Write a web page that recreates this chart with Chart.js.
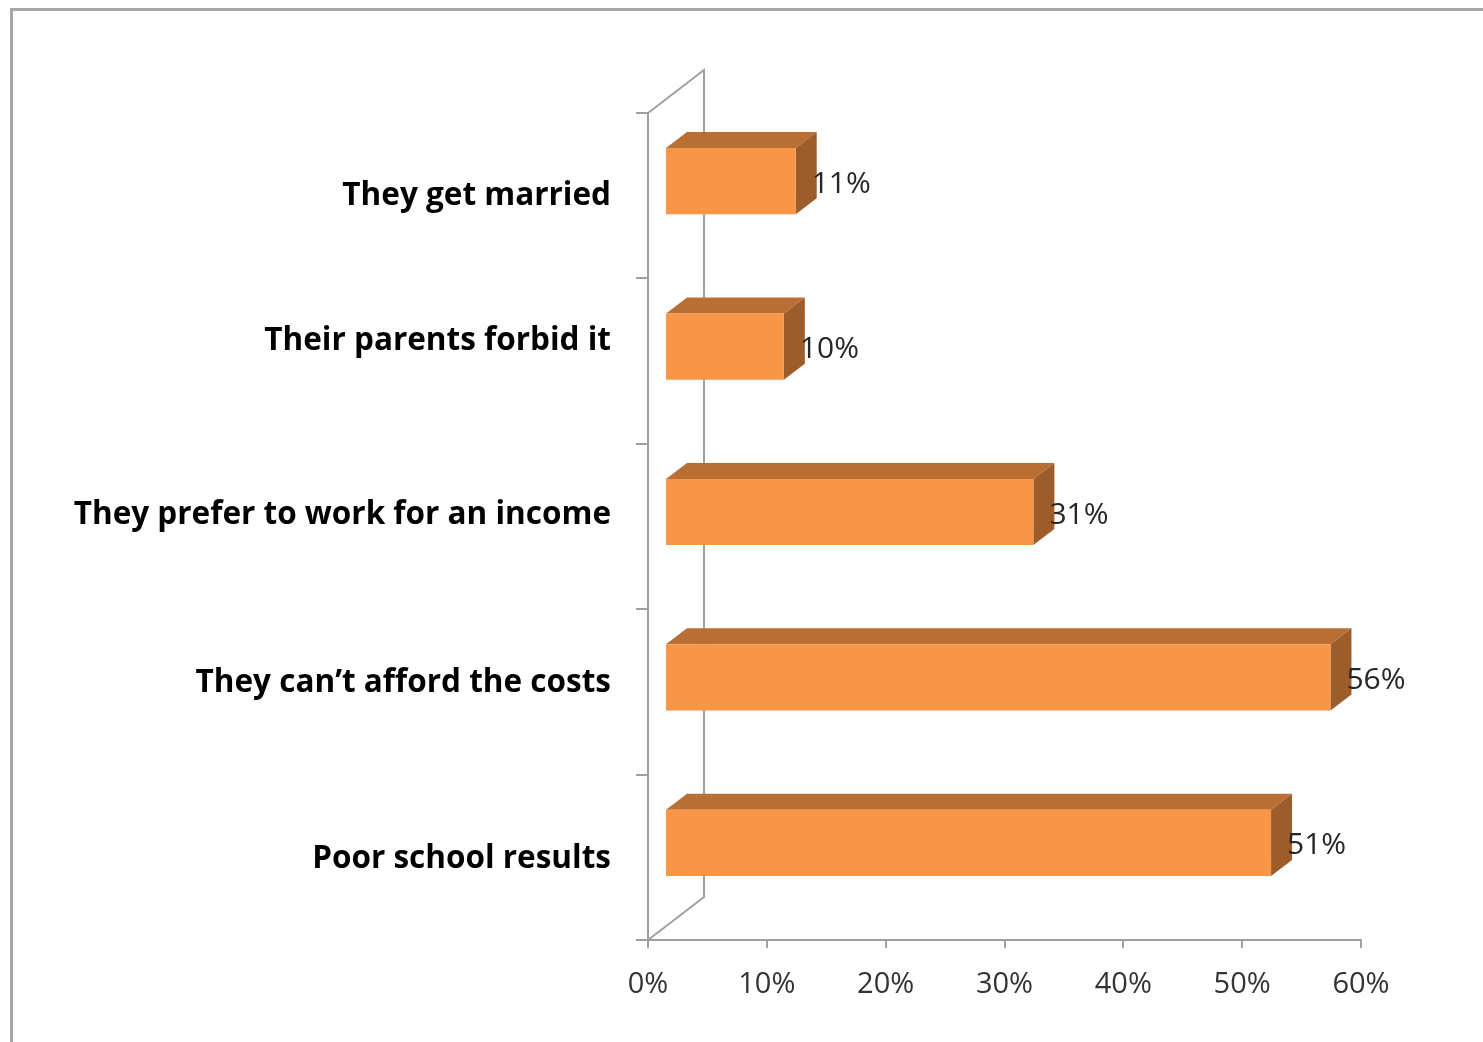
<!DOCTYPE html>
<html>
<head>
<meta charset="utf-8">
<script src="https://cdn.jsdelivr.net/npm/chart.js@4"></script>
<style>
  html, body { margin: 0; padding: 0; background: #fff; }
  #wrap { width: 1483px; height: 1042px; }
</style>
</head>
<body>
<div id="wrap"><canvas id="c"></canvas></div>
<script>
const categories = [
  'They get married',
  'Their parents forbid it',
  'They prefer to work for an income',
  'They can\u2019t afford the costs',
  'Poor school results'
];
const values = [11, 10, 31, 56, 51];
const tickValues = [0, 10, 20, 30, 40, 50, 60];

// 3d look: front face offset and box depth
const FRONT = { dx: 17, dy: -14.5 };
const DEPTH = { dx: 21, dy: -16 };
const WALL = { dx: 56, dy: -43 };
// category labels in the original sit a bit off the band centres
const labelShift = [0, -20, -11, -9, 2];

const box3d = {
  id: 'box3d',
  beforeDraw(chart) {
    const ctx = chart.ctx;
    ctx.save();
    ctx.strokeStyle = '#a6a6a6';
    ctx.lineWidth = 3;
    ctx.strokeRect(11.5, 9.5, 1500, 1100);
    ctx.restore();
    // nudge the category labels
    const items = chart.scales.y.getLabelItems(chart.chartArea);
    items.forEach((it, i) => {
      if (!it._shifted) {
        it.options.translation[1] += labelShift[i] || 0;
        it._shifted = true;
      }
    });
  },
  beforeDatasetsDraw(chart) {
    const { ctx, chartArea: a } = chart;
    ctx.save();
    ctx.strokeStyle = '#a0a0a0';
    ctx.lineWidth = 2;
    ctx.beginPath();
    ctx.moveTo(a.left, a.top);
    ctx.lineTo(a.left + WALL.dx, a.top + WALL.dy);
    ctx.lineTo(a.left + WALL.dx, a.bottom + WALL.dy);
    ctx.lineTo(a.left, a.bottom);
    ctx.stroke();
    ctx.restore();
  },
  beforeDatasetDraw(chart, args) {
    const ctx = chart.ctx;
    ctx.save();
    ctx.translate(FRONT.dx, FRONT.dy);
    args.meta.data.forEach(bar => {
      const p = bar.getProps(['x', 'y', 'base', 'height'], true);
      const top = p.y - p.height / 2, bot = p.y + p.height / 2;
      // top face
      ctx.fillStyle = '#b96f33';
      ctx.beginPath();
      ctx.moveTo(p.base, top);
      ctx.lineTo(p.base + DEPTH.dx, top + DEPTH.dy);
      ctx.lineTo(p.x + DEPTH.dx, top + DEPTH.dy);
      ctx.lineTo(p.x, top);
      ctx.closePath();
      ctx.fill();
      // side face
      ctx.fillStyle = '#9c5d2a';
      ctx.beginPath();
      ctx.moveTo(p.x, top);
      ctx.lineTo(p.x + DEPTH.dx, top + DEPTH.dy);
      ctx.lineTo(p.x + DEPTH.dx, bot + DEPTH.dy);
      ctx.lineTo(p.x, bot);
      ctx.closePath();
      ctx.fill();
    });
  },
  afterDatasetDraw(chart) {
    chart.ctx.restore();
  },
  afterDatasetsDraw(chart) {
    const ctx = chart.ctx;
    const meta = chart.getDatasetMeta(0);
    ctx.save();
    ctx.fillStyle = '#262626';
    ctx.font = '30px "Open Sans", Lato, sans-serif';
    ctx.textAlign = 'left';
    ctx.textBaseline = 'middle';
    meta.data.forEach((bar, i) => {
      ctx.fillText(values[i] + '%', bar.x + FRONT.dx + 16, bar.y + FRONT.dy + 3);
    });
    ctx.restore();
  }
};

new Chart(document.getElementById('c'), {
  type: 'bar',
  data: {
    labels: categories,
    datasets: [{
      data: values,
      backgroundColor: '#f79646',
      borderWidth: 0,
      categoryPercentage: 1,
      barPercentage: 0.4,
      clip: false
    }]
  },
  options: {
    indexAxis: 'y',
    responsive: true,
    maintainAspectRatio: false,
    animation: false,
    layout: { padding: { top: 113, right: 122, left: 0, bottom: 0 } },
    plugins: { legend: { display: false }, tooltip: { enabled: false } },
    scales: {
      x: {
        min: 0,
        max: 60,
        afterFit(s) { s.height = 102; },
        afterBuildTicks(s) { s.ticks = tickValues.map(v => ({ value: v })); },
        ticks: {
          callback: v => v + '%',
          color: '#333333',
          font: { family: '"Open Sans", Lato, sans-serif', size: 29 },
          padding: 19,
          maxRotation: 0
        },
        grid: { drawOnChartArea: false, tickLength: 8, color: '#a0a0a0', lineWidth: 2 },
        border: { color: '#a0a0a0', width: 2 }
      },
      y: {
        afterFit(s) { s.width = 648; },
        ticks: {
          color: '#000000',
          font: { family: '"Open Sans", Lato, sans-serif', size: 31.5, weight: 'bold' },
          padding: 25
        },
        grid: { offset: true, drawOnChartArea: false, tickLength: 12, color: '#a0a0a0', lineWidth: 2 },
        border: { color: '#a0a0a0', width: 2 }
      }
    }
  },
  plugins: [box3d]
});
</script>
</body>
</html>
